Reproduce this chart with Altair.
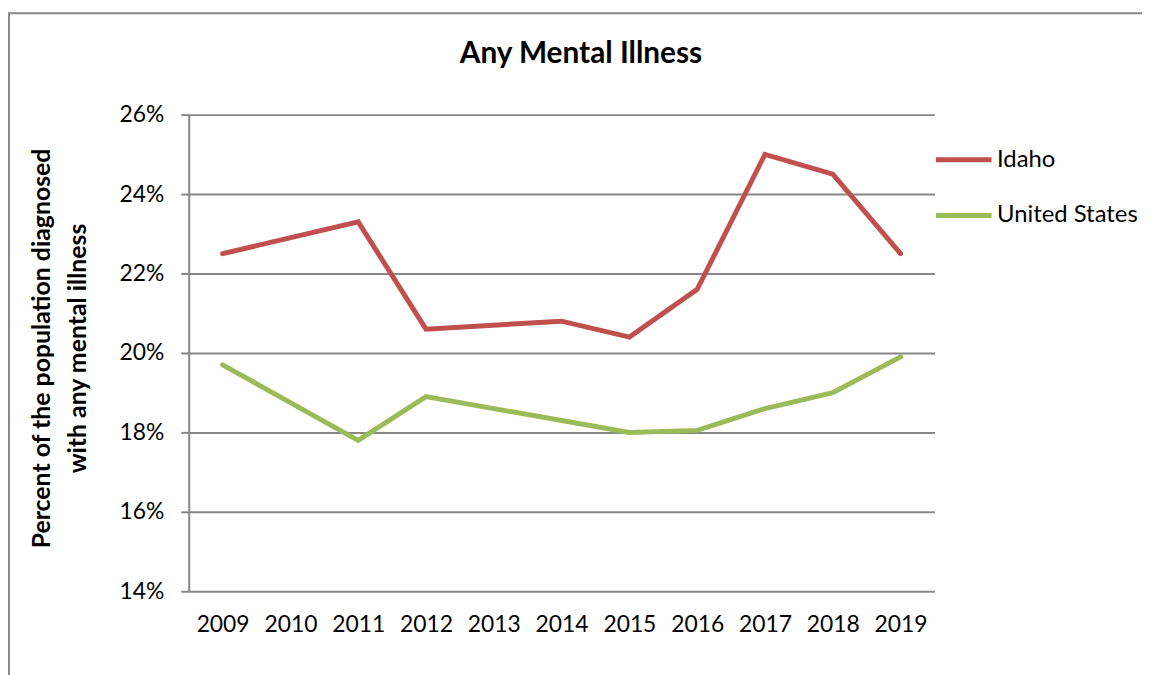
import altair as alt
import pandas as pd

years = [str(y) for y in range(2009, 2020)]
data_years = ["2009", "2011", "2012", "2014", "2015", "2016", "2017", "2018", "2019"]
idaho = [22.5, 23.3, 20.6, 20.8, 20.4, 21.6, 25.0, 24.5, 22.5]
united_states = [19.7, 17.8, 18.9, 18.3, 18.0, 18.05, 18.6, 19.0, 19.9]
series = ["Idaho", "United States"]
colors = ["#C0504D", "#9BBB59"]
y_ticks = [14, 16, 18, 20, 22, 24, 26]
chart_title = "Any Mental Illness"

rows = []
for name, vals in zip(series, [idaho, united_states]):
    for yr, v in zip(data_years, vals):
        rows.append({"year": yr, "value": v, "series": name})
df = pd.DataFrame(rows)

FONT = "Lato"
GRID = "#878787"

lines = alt.Chart(df).mark_line(strokeWidth=5, strokeCap="round", strokeJoin="miter").encode(
    x=alt.X("year:O", scale=alt.Scale(domain=years), sort=years,
            axis=alt.Axis(title=None, labelAngle=0, ticks=False, domain=False, grid=False,
                          labelPadding=23, labelFontSize=23, labelFont=FONT, labelColor="#000000")),
    y=alt.Y("value:Q", scale=alt.Scale(domain=[14, 26], nice=False, zero=False),
            axis=alt.Axis(values=y_ticks, labelExpr="datum.value + '%'",
                          title=["Percent of the population diagnosed", "with any mental illness"],
                          titleFont=FONT, titleFontSize=25, titleFontWeight="bold", titleColor="#000000",
                          titleLineHeight=36, titleX=-148, titleY=235, titleAngle=-90,
                          titleBaseline="middle", titleAlign="center",
                          labelFontSize=23, labelFont=FONT, labelColor="#000000", labelPadding=17,
                          tickSize=8, tickColor=GRID, tickWidth=2,
                          domain=True, domainColor=GRID, domainWidth=2,
                          grid=True, gridColor=GRID, gridWidth=2)),
    color=alt.Color("series:N", scale=alt.Scale(domain=series, range=colors),
                    legend=alt.Legend(title=None, orient="none", legendX=750, legendY=15,
                                      symbolType="stroke", symbolSize=3136, symbolStrokeWidth=5,
                                      labelFontSize=24, labelFont=FONT, labelColor="#000000",
                                      labelOffset=3, rowPadding=13, padding=0)),
)

frame = alt.Chart(pd.DataFrame({"k": [0]})).mark_rect(filled=False, stroke="#878787", strokeWidth=2).encode(
    x=alt.value(-181), x2=alt.value(1100), y=alt.value(-102), y2=alt.value(700)
)

title = alt.Chart(pd.DataFrame({"t": [chart_title]})).mark_text(
    font=FONT, fontSize=30, fontWeight="bold", color="#000000", align="center", baseline="middle"
).encode(text="t:N", x=alt.value(395), y=alt.value(-61))

chart = alt.layer(frame, lines, title).properties(
    width=751, height=480,
    autosize=alt.AutoSizeParams(type="none"),
    padding={"left": 182, "top": 105, "right": 209, "bottom": 90},
).configure_view(stroke=None)

chart.save("out.html", embed_options={"renderer": "svg", "actions": False})
